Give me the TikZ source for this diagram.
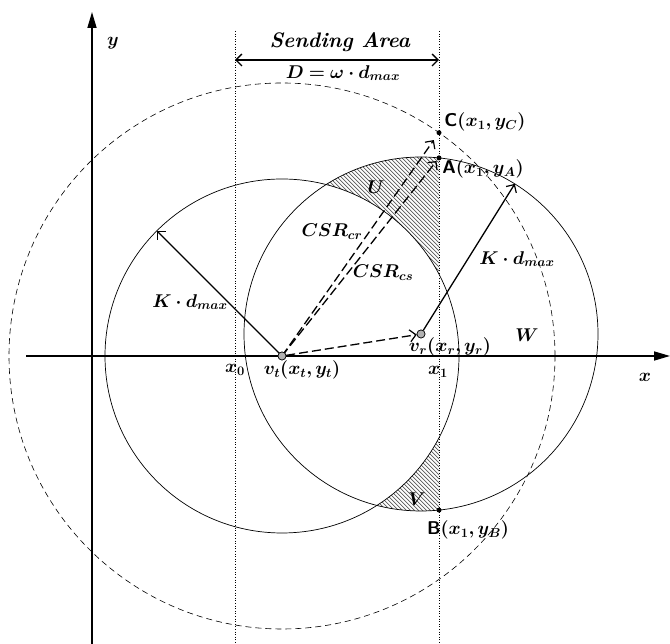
\RequirePackage{fix-cm}
\documentclass[tikz,border=0pt]{standalone}
\usepackage{bm}
\usetikzlibrary{arrows.meta,calc}
\begin{document}
\begin{tikzpicture}[x=1pt,y=1pt,
  lbl/.style={inner sep=0pt,font=\fontsize{18.5}{21}\selectfont},
  thincirc/.style={line width=0.7pt},
  dotline/.style={line width=1pt,dash pattern=on 1pt off 1.6pt},
  axis/.style={line width=1.6pt,-{Triangle[length=16pt,width=9pt]}},
  radarrow/.style={line width=1.3pt,-{Straight Barb[length=6pt,width=12pt,line width=1.2pt]}},
  dasharrow/.style={line width=1.3pt,dash pattern=on 9pt off 4pt,-{Straight Barb[length=6pt,width=12pt,line width=1.2pt]}},
  pt/.style={circle,fill=black,inner sep=0pt,minimum size=5pt},
  vdot/.style={circle,draw=black,fill=gray!60,line width=0.6pt,inner sep=0pt,minimum size=8pt}]
\useasboundingbox (0,0) rectangle (670,644);

% hatched regions U and V
\begin{scope}
  \clip (0,0) rectangle (439,644);
  \clip (421,310) circle [radius=177pt];
  \foreach \c in {480,484,...,980} \draw[gray!70!black,line width=0.7pt] (\c-700,700) -- (\c,0);
  \fill[white] (282,288) circle [radius=177pt];
\end{scope}

% circles
\draw[thincirc] (282,288) circle [radius=177pt];
\draw[thincirc] (421,310) circle [radius=177pt];
\draw[line width=0.6pt,dash pattern=on 6pt off 4pt] (282,288) circle [radius=273pt];

% dotted verticals
\draw[dotline] (235,613) -- (235,0);
\draw[dotline] (439,613) -- (439,0);

% axes
\coordinate (xs) at (26,288);
\coordinate (xe) at (670,288);
\coordinate (ys) at (92,0);
\coordinate (ye) at (92,632);
\draw[axis] (xs) -- (xe);
\draw[axis] (ys) -- (ye);

% sending area arrow
\coordinate (sl) at (235,584);
\coordinate (sr) at (439,584);
\draw[line width=1.5pt,{Straight Barb[length=6pt,width=12pt,line width=1.3pt]}-{Straight Barb[length=6pt,width=12pt,line width=1.3pt]}] (sl) -- (sr);

% points
\node[vdot] (vt) at (282,288) {};
\node[vdot] (vr) at (421,310) {};
\node[pt] (C) at (439,511.3) {};
\node[pt] (A) at (439,486.1) {};
\node[pt] (B) at (439,133.9) {};
\coordinate (kl) at ($(282,288)+(135:177)$);
\coordinate (kr) at ($(421,310)+(58:177)$);

% arrows
\draw[radarrow] (vt.center) -- (kl);
\draw[radarrow] (vr) -- (kr);
\draw[dasharrow,shorten >=9pt] (vt.center) -- (C.center);
\draw[dasharrow,shorten >=4pt] (vt.center) -- (A.center);
\draw[dasharrow] (vt) -- (vr);
\node[vdot] at (282,288) {};
\node[vdot] at (421,310) {};

% labels
\node[lbl,font=\fontsize{21}{24}\selectfont] (sa) at (340,602) {\textbf{\textit{Sending Area}}};
\node[lbl] (dl) at (343,571) {$\bm{D=\omega\cdot d_{max}}$};
\node[lbl] (ylab) at (113,601) {$\bm{y}$};
\node[lbl] (xlab) at (645,267) {$\bm{x}$};
\node[lbl] (x0) at (235,274) {$\bm{x_0}$};
\node[lbl] (vtl) at (302,274) {$\bm{v_t(x_t,y_t)}$};
\node[lbl] (x1) at (438,272) {$\bm{x_1}$};
\node[lbl] (vrl) at (450,297) {$\bm{v_r(x_r,y_r)}$};
\node[lbl] (W) at (527,309) {$\bm{W}$};
\node[lbl] (cr) at (332,412) {$\bm{CSR_{cr}}$};
\node[lbl] (cs) at (383,371) {$\bm{CSR_{cs}}$};
\node[lbl] (kdl) at (190,342) {$\bm{K\cdot d_{max}}$};
\node[lbl] (kdr) at (517,385) {$\bm{K\cdot d_{max}}$};
\node[lbl] (U) at (376,457) {$\bm{U}$};
\node[lbl] (V) at (417,145) {$\bm{V}$};
\node[lbl] (Cl) at (485,522) {\textsf{\textbf{C}}$\bm{(x_1,y_C)}$};
\node[lbl] (Al) at (483,475) {\textsf{\textbf{A}}$\bm{(x_1,y_A)}$};
\node[lbl] (Bl) at (468,114) {\textsf{\textbf{B}}$\bm{(x_1,y_B)}$};
\end{tikzpicture}
\end{document}
